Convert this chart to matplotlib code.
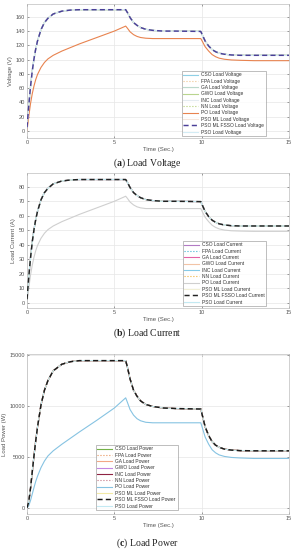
import matplotlib
matplotlib.use("Agg")
import matplotlib.pyplot as plt

plt.rcParams["mathtext.fontset"] = "custom"
plt.rcParams["mathtext.rm"] = "Liberation Serif"
plt.rcParams["mathtext.bf"] = "Liberation Serif:bold"

# ---------------- data ----------------
t = [0, 0.1, 0.2, 0.3, 0.4, 0.5, 0.6, 0.8, 1.0, 1.2, 1.5, 2.0, 2.5, 3.0, 4.0, 5.0,
     5.65, 5.75, 5.9, 6.1, 6.3, 6.5, 6.8, 7.2, 7.8, 8.5, 9.95, 10.05, 10.2, 10.4,
     10.6, 10.8, 11.0, 11.3, 11.7, 12.2, 13.0, 14.0, 15.0]

volt_high = [5, 35, 62, 84, 101, 115, 126, 142, 152, 158, 164, 168, 169.5, 170, 170, 170,
             170, 166, 159, 152, 148, 145, 142.5, 141, 140, 140, 139.5, 134, 126, 119,
             114, 111, 109, 107.5, 106.5, 106, 106, 106, 106]
volt_po = [0, 20, 38, 52, 63, 72, 79, 89, 96, 101, 106, 112, 117, 122, 131, 140,
           147, 144, 139, 135, 132.5, 131, 130, 129.5, 129.5, 129.5, 129.5, 125, 118, 112,
           107, 104, 102, 100.5, 99.5, 99, 98.5, 98.5, 98.5]

curr_high = [2.5, 17.5, 31, 42, 50.5, 57.5, 63, 71, 76, 79, 82, 84, 84.7, 85, 85, 85,
             85, 83, 79.5, 76, 74, 72.5, 71.2, 70.5, 70, 70, 69.8, 67, 63, 59.5,
             57, 55.5, 54.5, 53.7, 53.2, 53, 53, 53, 53]
curr_po = [0, 10, 19, 26, 31.5, 36, 39.5, 44.5, 48, 50.5, 53, 56, 58.5, 61, 65.5, 70,
           73.5, 72, 69.5, 67.5, 66.2, 65.5, 65, 65, 65, 65, 65, 62.5, 59, 56,
           53.5, 52, 51, 50.2, 49.7, 49.5, 49.3, 49.3, 49.3]

pow_high = [10, 600, 1900, 3500, 5100, 6600, 7900, 10100, 11550, 12500, 13450, 14100, 14350, 14450, 14450, 14450,
            14450, 13800, 12650, 11550, 10950, 10500, 10150, 9950, 9800, 9750, 9700, 9000, 7950, 7100,
            6500, 6150, 5950, 5770, 5670, 5620, 5600, 5600, 5600]
pow_po = [0, 200, 720, 1350, 2000, 2600, 3100, 3950, 4600, 5100, 5600, 6250, 6850, 7450, 8600, 9800,
          10800, 10350, 9650, 9100, 8750, 8550, 8400, 8350, 8350, 8350, 8350, 7800, 6950, 6250,
          5700, 5400, 5200, 5050, 4950, 4900, 4850, 4850, 4850]

methods = ["CSO", "FPA", "GA", "GWO", "INC", "NN", "PO", "PSO ML", "PSO ML FSSO", "PSO"]
x_ticks = [0, 5, 10, 15]

volt_colors = ["#8fd0e6", "#efc48e", "#bcd9cc", "#b9d58f", "#e4ebf0", "#b3d074",
               "#e8834f", "#f5e6dc", "#4a3f98", "#d3ecf5"]
curr_colors = ["#b27ac4", "#3fb2d2", "#e463a5", "#f2c4a6", "#86cbe8", "#f0b23a",
               "#cfcfcf", "#f2f0d6", "#222222", "#c3e9f2"]
pow_colors = ["#74b148", "#e8935a", "#f2a786", "#c386e2", "#8f2343", "#c47484",
              "#86c3e2", "#f2eaa6", "#1a1a1a", "#c3e9f2"]
styles = ["-", ":", "-", "-", "-", ":", "-", "-", "--", "-"]

fig = plt.figure(figsize=(2.95, 5.5), dpi=100)
W, H = 295.0, 550.0

def ax_at(left, top, right, bottom):
    return fig.add_axes([left / W, 1 - bottom / H, (right - left) / W, (bottom - top) / H])

tick_font = ["Liberation Sans", "DejaVu Sans"]
grey = "#555555"

panels = [
    dict(box=(27, 4, 289, 138), high=volt_high, low=volt_po, colors=volt_colors,
         ylabel="Voltage (V)", yticks=list(range(0, 161, 20)), ylim=(-10, 178),
         suffix="Load Voltage", leg=(182, 74, 266, 136), cap_y=163, letter="a",
         caption="Load Voltage"),
    dict(box=(27, 173, 289, 308), high=curr_high, low=curr_po, colors=curr_colors,
         ylabel="Load Current (A)", yticks=list(range(0, 81, 10)), ylim=(-3.5, 89.5),
         suffix="Load Current", leg=(183, 244, 266, 306), cap_y=333, letter="b",
         caption="Load Current"),
    dict(box=(27, 354, 289, 514), high=pow_high, low=pow_po, colors=pow_colors,
         ylabel="Load Power (W)", yticks=[0, 5000, 10000, 15000], ylim=(-600, 15100),
         suffix="Load Power", leg=(96, 436, 178, 510), cap_y=543, letter="c",
         caption="Load Power"),
]

for p in panels:
    ax = ax_at(*p["box"])
    handles = []
    for i, m in enumerate(methods):
        y = p["low"] if m == "PO" else p["high"]
        lw = 1.05 if m == "PSO ML FSSO" else 0.8
        z = 5 if m == "PSO ML FSSO" else 2
        ln, = ax.plot(t, y, color=p["colors"][i], linestyle=styles[i], lw=lw, zorder=z,
                      label=f"{m} {p['suffix']}")
        if m == "PSO ML FSSO":
            ln.set_dashes([3.5, 2.2])
        handles.append(ln)
    ax.set_xlim(0, 15)
    ax.set_ylim(*p["ylim"])
    ax.set_xticks(x_ticks)
    ax.set_yticks(p["yticks"])
    ax.grid(True, color="#e6e6e6", lw=0.5)
    ax.set_axisbelow(True)
    for s in ax.spines.values():
        s.set_color("#bdbdbd")
        s.set_linewidth(0.5)
    ax.tick_params(labelsize=4, colors=grey, length=1.5, width=0.4, pad=1.5,
                   direction="in", top=True, right=True)
    for lab in ax.get_xticklabels() + ax.get_yticklabels():
        lab.set_family(tick_font)
    ax.set_xlabel("Time (Sec.)", fontsize=4.3, color=grey, family=tick_font, labelpad=1.5)
    ax.set_ylabel(p["ylabel"], fontsize=4.3, color=grey, family=tick_font, labelpad=1.5)

    l, tp, r, b = p["leg"]
    leg = ax.legend(handles=handles, loc="lower left",
                    bbox_to_anchor=(l / W, 1 - b / H, (r - l) / W, (b - tp) / H),
                    bbox_transform=fig.transFigure, mode="expand",
                    prop={"family": tick_font, "size": 3.5}, frameon=True, fancybox=False,
                    borderaxespad=0, borderpad=0.3, labelspacing=0.28, handlelength=3.0,
                    handletextpad=0.6)
    leg.get_frame().set_edgecolor("#8c8c8c")
    leg.get_frame().set_linewidth(0.5)
    for txt in leg.get_texts():
        txt.set_color("#333333")

    fig.text(0.5, 1 - p["cap_y"] / H,
             r"($\mathbf{" + p["letter"] + r"}$) " + p["caption"],
             ha="center", va="center", fontsize=7, color="#222222",
             family=["Liberation Serif", "DejaVu Serif"])

fig.savefig("out.png", dpi=100, facecolor="white")
